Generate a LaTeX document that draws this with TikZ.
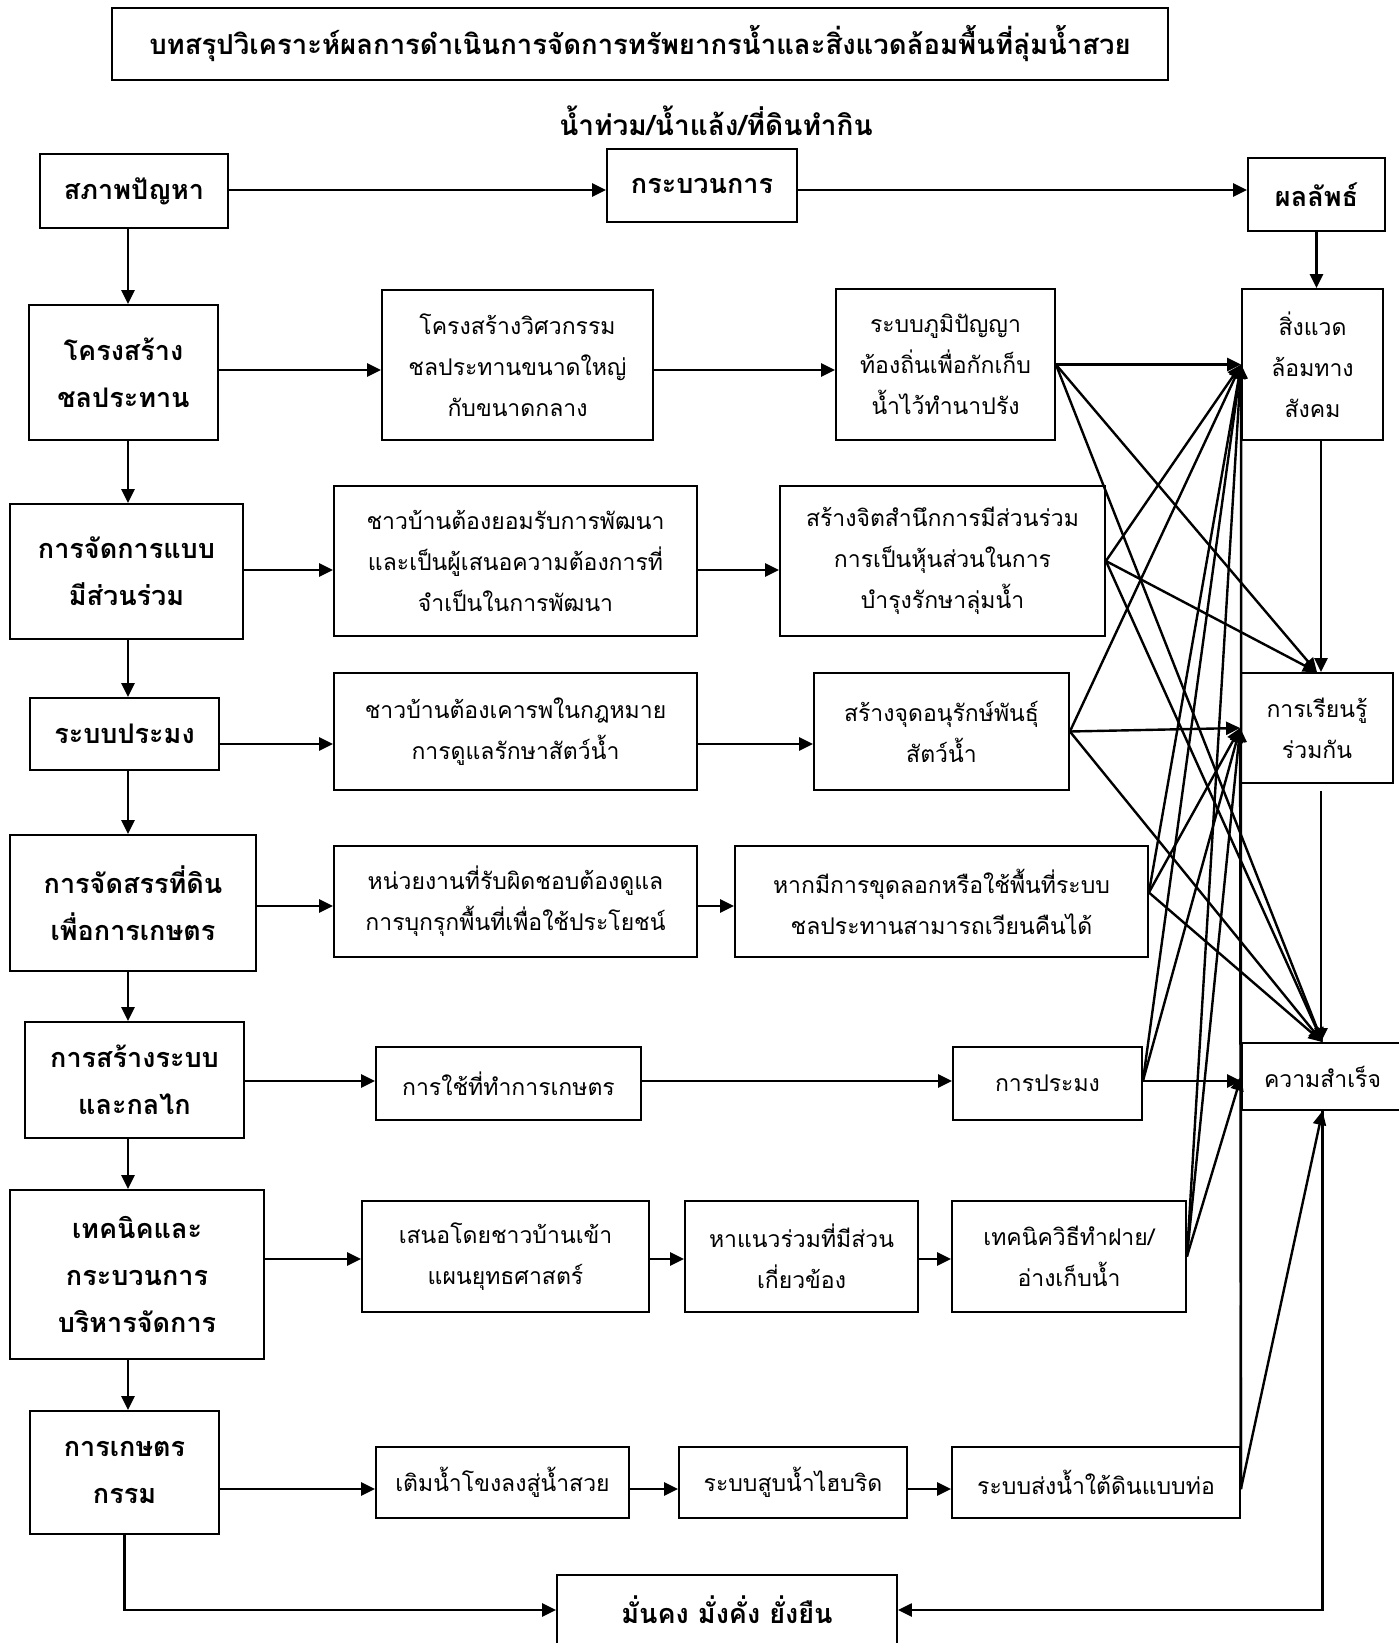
\documentclass[tikz,border=0pt]{standalone}
\usepackage{fontspec}
\newfontfamily\thai[Script=Thai]{Loma}
\usetikzlibrary{arrows.meta,calc}
\begin{document}
\begin{tikzpicture}[x=1pt,y=-1pt,
  box/.style={draw, line width=1.8pt, inner sep=0pt, align=center, font=\thai\fontsize{23}{41}\selectfont},
  bbox/.style={box, font=\thai\bfseries\fontsize{27}{47}\selectfont},
  conn/.style={line width=2.4pt, -{Triangle[length=14pt,width=13pt]}},
  plain/.style={line width=2.4pt}
]
\fill[white] (0,0) rectangle (1399,1643);
\useasboundingbox (0,0) rectangle (1399,1643);

% title
\node[bbox, font=\thai\bfseries\fontsize{27.5}{47}\selectfont, minimum width=1056pt, minimum height=72pt] (T) at (640,44) {บทสรุปวิเคราะห์ผลการดำเนินการจัดการทรัพยากรน้ำและสิ่งแวดล้อมพื้นที่ลุ่มน้ำสวย};
\node[font=\thai\bfseries\fontsize{28}{47}\selectfont, inner sep=0pt] (ST) at (716,121) {น้ำท่วม/น้ำแล้ง/ที่ดินทำกิน};

% header row
\node[bbox, minimum width=188pt, minimum height=74pt] (P0) at (134,191) {สภาพปัญหา};
\node[bbox, minimum width=190pt, minimum height=73pt] (M0) at (702,185.5) {กระบวนการ};
\node[bbox, minimum width=137pt, minimum height=73pt] (R0) at (1316.5,194.5) {ผลลัพธ์};

% left column
\node[bbox, minimum width=189pt, minimum height=135pt] (L1) at (123.5,372.5) {โครงสร้าง\\ชลประทาน};
\node[bbox, minimum width=233pt, minimum height=135pt] (L2) at (126.5,571.5) {การจัดการแบบ\\มีส่วนร่วม};
\node[bbox, minimum width=189pt, minimum height=72pt] (L3) at (124.5,734) {ระบบประมง};
\node[bbox, minimum width=246pt, minimum height=136pt] (L4) at (133,903) {การจัดสรรที่ดิน\\เพื่อการเกษตร};
\node[bbox, minimum width=219pt, minimum height=116pt] (L5) at (134.5,1080) {การสร้างระบบ\\และกลไก};
\node[bbox, minimum width=254pt, minimum height=169pt] (L6) at (137,1274.5) {เทคนิคและ\\กระบวนการ\\บริหารจัดการ};
\node[bbox, minimum width=189pt, minimum height=123pt] (L7) at (124.5,1472.5) {การเกษตร\\กรรม};

% middle boxes
\node[box, minimum width=271pt, minimum height=150pt] (A1) at (517.5,365) {โครงสร้างวิศวกรรม\\ชลประทานขนาดใหญ่\\กับขนาดกลาง};
\node[box, minimum width=219pt, minimum height=151pt] (B1) at (945.5,364.5) {ระบบภูมิปัญญา\\ท้องถิ่นเพื่อกักเก็บ\\น้ำไว้ทำนาปรัง};
\node[box, minimum width=363pt, minimum height=150pt] (A2) at (515.5,561) {ชาวบ้านต้องยอมรับการพัฒนา\\และเป็นผู้เสนอความต้องการที่\\จำเป็นในการพัฒนา};
\node[box, minimum width=325pt, minimum height=150pt] (B2) at (942.5,561) {สร้างจิตสำนึกการมีส่วนร่วม\\การเป็นหุ้นส่วนในการ\\บำรุงรักษาลุ่มน้ำ};
\node[box, minimum width=363pt, minimum height=117pt] (A3) at (515.5,731.5) {ชาวบ้านต้องเคารพในกฎหมาย\\การดูแลรักษาสัตว์น้ำ};
\node[box, minimum width=255pt, minimum height=117pt] (B3) at (941.5,731.5) {สร้างจุดอนุรักษ์พันธุ์\\สัตว์น้ำ};
\node[box, minimum width=363pt, minimum height=111pt] (A4) at (515.5,901.5) {หน่วยงานที่รับผิดชอบต้องดูแล\\การบุกรุกพื้นที่เพื่อใช้ประโยชน์};
\node[box, minimum width=413pt, minimum height=111pt] (B4) at (941.5,901.5) {หากมีการขุดลอกหรือใช้พื้นที่ระบบ\\ชลประทานสามารถเวียนคืนได้};
\node[box, minimum width=265pt, minimum height=73pt] (A5) at (508.5,1083.5) {การใช้ที่ทำการเกษตร};
\node[box, minimum width=189pt, minimum height=73pt] (B5) at (1047.5,1083.5) {การประมง};
\node[box, minimum width=287pt, minimum height=111pt] (A6) at (505.5,1256.5) {เสนอโดยชาวบ้านเข้า\\แผนยุทธศาสตร์};
\node[box, minimum width=233pt, minimum height=111pt] (B6) at (801.5,1256.5) {หาแนวร่วมที่มีส่วน\\เกี่ยวข้อง};
\node[box, minimum width=234pt, minimum height=111pt] (C6) at (1069,1256.5) {เทคนิควิธีทำฝาย/\\อ่างเก็บน้ำ};
\node[box, minimum width=253pt, minimum height=71pt] (A7) at (502.5,1482.5) {เติมน้ำโขงลงสู่น้ำสวย};
\node[box, minimum width=228pt, minimum height=71pt] (B7) at (793,1482.5) {ระบบสูบน้ำไฮบริด};
\node[box, minimum width=288pt, minimum height=71pt] (C7) at (1096,1482.5) {ระบบส่งน้ำใต้ดินแบบท่อ};

% outcomes
\node[box, minimum width=141pt, minimum height=151pt] (O1) at (1312.5,364.5) {สิ่งแวด\\ล้อมทาง\\สังคม};
\node[box, minimum width=152pt, minimum height=110pt] (O2) at (1317,728) {การเรียนรู้\\ร่วมกัน};
\node[box, minimum width=161pt, minimum height=67pt] (O3) at (1322.5,1076.5) {ความสำเร็จ};
\node[bbox, minimum width=340pt, minimum height=70pt] (F) at (727,1610) {มั่นคง มั่งคั่ง ยั่งยืน};

% helper coordinates (column x and row y of the connectors)
\coordinate (cx) at (128,0);
\coordinate (vx) at (1321,0);
\coordinate (r0) at (0,190);
\coordinate (r1) at (0,370);
\coordinate (r2) at (0,570);
\coordinate (r3) at (0,744);
\coordinate (r4) at (0,906);
\coordinate (r5) at (0,1081);
\coordinate (r6) at (0,1259);
\coordinate (r7) at (0,1489);
\coordinate (s4) at ($(B4.east)+(0,-9)$);

% header arrows
\draw[conn] (P0.east |- r0) -- (M0.west |- r0);
\draw[conn] (M0.east |- r0) -- (R0.west |- r0);
\draw[conn] (R0.south) -- (R0.south |- O1.north);

% left column downward
\draw[conn] (P0.south -| cx) -- (L1.north -| cx);
\draw[conn] (L1.south -| cx) -- (L2.north -| cx);
\draw[conn] (L2.south -| cx) -- (L3.north -| cx);
\draw[conn] (L3.south -| cx) -- (L4.north -| cx);
\draw[conn] (L4.south -| cx) -- (L5.north -| cx);
\draw[conn] (L5.south -| cx) -- (L6.north -| cx);
\draw[conn] (L6.south -| cx) -- (L7.north -| cx);

% rows
\draw[conn] (L1.east |- r1) -- (A1.west |- r1);
\draw[conn] (A1.east |- r1) -- (B1.west |- r1);
\draw[conn] (L2.east |- r2) -- (A2.west |- r2);
\draw[conn] (A2.east |- r2) -- (B2.west |- r2);
\draw[conn] (L3.east |- r3) -- (A3.west |- r3);
\draw[conn] (A3.east |- r3) -- (B3.west |- r3);
\draw[conn] (L4.east |- r4) -- (A4.west |- r4);
\draw[conn] (A4.east |- r4) -- (B4.west |- r4);
\draw[conn] (L5.east |- r5) -- (A5.west |- r5);
\draw[conn] (A5.east |- r5) -- (B5.west |- r5);
\draw[conn] (L6.east |- r6) -- (A6.west |- r6);
\draw[conn] (A6.east |- r6) -- (B6.west |- r6);
\draw[conn] (B6.east |- r6) -- (C6.west |- r6);
\draw[conn] (L7.east |- r7) -- (A7.west |- r7);
\draw[conn] (A7.east |- r7) -- (B7.west |- r7);
\draw[conn] (B7.east |- r7) -- (C7.west |- r7);

% outcome chain
\draw[conn] (O1.south -| vx) -- (O2.north -| vx);
\draw[conn] ($(O2.south -| vx)+(0,7)$) -- (O3.north -| vx);

% fan to outcomes
\draw[conn] (B1.east) -- (O1.west);
\draw[conn] (B1.east) -- (O2.north);
\draw[conn] (B1.east) -- (O3.north);
\draw[conn] (B2.east) -- (O1.west);
\draw[conn] (B2.east) -- (O2.north);
\draw[conn] (B2.east) -- (O3.north);
\draw[conn] (B3.east) -- (O1.west);
\draw[conn] (B3.east) -- (O2.west);
\draw[conn] (B3.east) -- (O3.north);
\draw[conn] (s4) -- (O1.west);
\draw[conn] (s4) -- (O2.west);
\draw[conn] (s4) -- (O3.north);
\draw[conn] (B5.east |- r5) -- (O1.west);
\draw[conn] (B5.east |- r5) -- (O2.west);
\draw[conn] (B5.east |- r5) -- (O3.west |- r5);
\draw[conn] (C6.east) -- (O1.west);
\draw[conn] (C6.east) -- (O2.west);
\draw[conn] (C6.east) -- (O3.west);
\draw[conn] (C7.east |- r7) -- (O1.west);
\draw[conn] (C7.east |- r7) -- (O2.west);
\draw[conn] (C7.east |- r7) -- (O3.south);

% to final box
\draw[conn] (L7.south) |- (F.west);
\draw[conn] (O3.south) |- (F.east);
\end{tikzpicture}
\end{document}
